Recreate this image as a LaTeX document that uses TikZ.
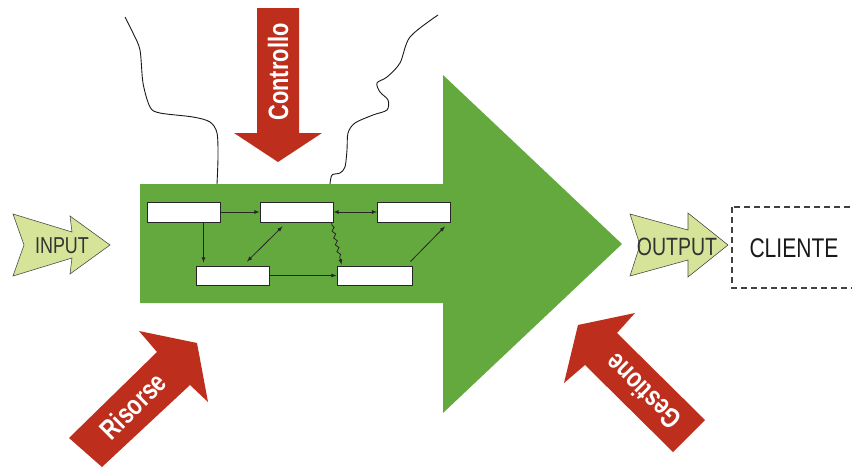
\documentclass[tikz,border=0pt]{standalone}
\usepackage{fontspec}
\setmainfont{Liberation Sans}
\newfontfamily\narrowfont[FakeStretch=0.78]{Liberation Sans}
\usetikzlibrary{decorations.pathmorphing}
\definecolor{procgreen}{RGB}{100,169,61}
\definecolor{flowred}{RGB}{190,46,29}
\definecolor{palegreen}{RGB}{213,228,152}
\tikzset{
  fase/.style={draw=black!85, fill=white, line width=0.9pt, minimum width=73pt, minimum height=20pt, inner sep=0pt},
  flusso/.style={->, >=latex, line width=0.8pt, black!85},
  freccia/.style={fill=palegreen, draw=black!70, line width=0.6pt},
  redtext/.style={text=white, font=\narrowfont\bfseries\fontsize{28}{28}\selectfont},
  filo/.style={line width=0.9pt, black!90}
}
\begin{document}
\begin{tikzpicture}[x=1pt, y=-1pt]
  \clip (0,0) rectangle (852,469);
  % main process arrow
  \fill[procgreen] (140,184) -- (443,184) -- (443,75) -- (622,244) -- (443,413) -- (443,303) -- (140,303) -- cycle;
  \draw[filo] plot[smooth] coordinates {(125,17) (133,33) (140,50) (143,83) (150,107) (160,113) (193,117) (210,122) (217,133) (218,157) (217,184)};
  \draw[filo] plot[smooth] coordinates {(438,15) (410,37) (400,63) (387,77) (377,83) (380,92) (388,100) (387,110) (373,115) (355,123) (348,133) (347,150) (345,167) (340,173) (332,175) (330,184)};
  % red arrows
  \fill[flowred] (257,8) -- (299,8) -- (299,133) -- (322,133) -- (278,162) -- (234,133) -- (257,133) -- cycle;
  \node[redtext, rotate=90] (controllo) at (278,72) {Controllo};
  \fill[flowred] (69,438) -- (157,352) -- (139,331) -- (197,343) -- (208,402) -- (190,385) -- (102,467) -- cycle;
  \node[redtext, rotate=45] (risorse) at (133,406) {Risorse};
  \fill[flowred] (578,325) -- (635,313) -- (617,333) -- (705,420) -- (673,452) -- (585,365) -- (564,383) -- cycle;
  \node[redtext, rotate=135] (gestione) at (643,392) {Gestione};
  % input / output
  \draw[freccia] (13,214) -- (72,232) -- (70,216) -- (110,245) -- (70,274) -- (72,258) -- (13,276) -- (24,245) -- cycle;
  \node[text=black!80, font=\narrowfont\fontsize{23}{23}\selectfont] (input) at (62,246) {INPUT};
  \draw[freccia] (630,214) -- (688,230) -- (688,213) -- (728,245) -- (688,277) -- (688,260) -- (630,276) -- (640,245) -- cycle;
  \node[text=black!80, font=\narrowfont\fontsize{25}{25}\selectfont] (output) at (677,247) {OUTPUT};
  \draw[dashed, dash pattern=on 6pt off 4pt, line width=1.1pt, black!75] (732,207) rectangle (870,288);
  \node[text=black!90, font=\narrowfont\fontsize{27}{27}\selectfont] (cliente) at (794,248) {CLIENTE};
  % activities
  \node[fase] (a1) at (183.5,212) {};
  \node[fase] (a2) at (296.5,212) {};
  \node[fase] (a3) at (414,212) {};
  \node[fase, minimum height=19pt] (b1) at (233,275.5) {};
  \node[fase, minimum height=19pt, minimum width=75pt] (b2) at (374.5,275.5) {};
  \draw[flusso] (a1) -- (a2);
  \draw[flusso] ([xshift=20pt]a1.south) -- ([xshift=20pt,yshift=3pt]a1.south |- b1.north);
  \draw[flusso, <->] (a2) -- (a3);
  \draw[flusso, <->] ([xshift=14pt,yshift=4pt]b1.north) -- ([xshift=-14pt,yshift=-4pt]a2.south);
  \draw[flusso] (b1) -- (b2);
  \draw[flusso] ([xshift=-2pt,yshift=4pt]b2.north east) -- ([xshift=-6pt,yshift=-4pt]a3.south east);
  \draw[flusso, decorate, decoration={snake, amplitude=1.5pt, segment length=7pt, pre length=3pt, post length=5pt}] ([xshift=-2pt]a2.south east) -- ([xshift=5pt,yshift=1pt]b2.north west);
\end{tikzpicture}
\end{document}
